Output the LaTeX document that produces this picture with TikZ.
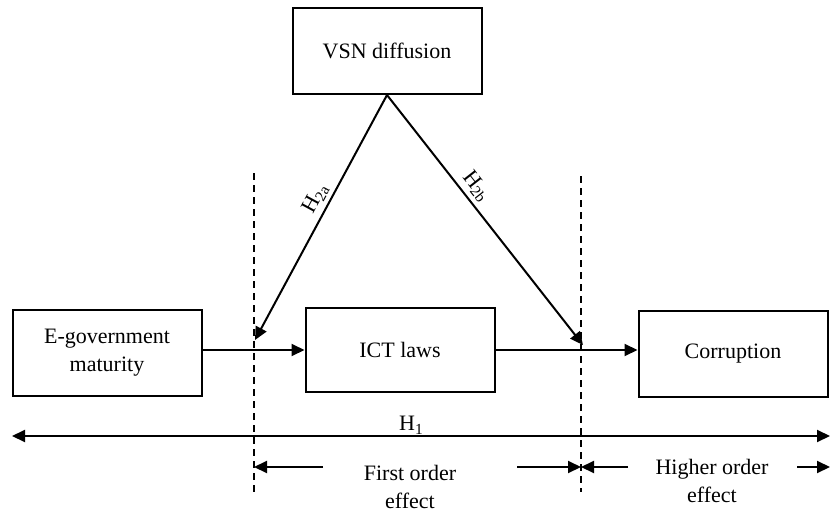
\documentclass[tikz,border=0pt]{standalone}
\usepackage{fontspec}
\setmainfont{Liberation Serif}
\usetikzlibrary{arrows.meta}

\begin{document}
\begin{tikzpicture}[x=1pt, y=-1pt, font=\fontsize{22}{28}\selectfont,
    box/.style = {draw, line width=2pt, minimum width=189pt, minimum height=86pt, align=center},
    arr/.style = {-{Triangle[length=13pt,width=12pt]}, line width=2pt},
    dblarr/.style = {{Triangle[length=13pt,width=12pt]}-{Triangle[length=13pt,width=12pt]}, line width=2pt},
    divider/.style = {line width=1.6pt, dash pattern=on 7pt off 5pt}]
    \useasboundingbox (0,0) rectangle (831,514);

    % boxes
    \node[box] (vsn) at (387,51) {VSN diffusion};
    \node[box] (egov) at (107,353) {E-government\\maturity};
    \node[box, minimum height=84pt] (ict) at (400,350) {ICT laws};
    \node[box] (corr) at (733,354) {Corruption};

    % dividers
    \coordinate (d1top) at (254,173);
    \coordinate (d1bot) at (254,492);
    \coordinate (d2top) at (581,176);
    \coordinate (d2bot) at (581,492);
    \draw[divider] (d1top) -- (d1bot);
    \draw[divider] (d2top) -- (d2bot);

    % main path
    \draw[arr] (egov.east |- ict.west) -- (ict.west);
    \draw[arr] (ict.east) -- (ict.east -| corr.west);

    % moderation
    \coordinate (h2aend) at (255,340);
    \coordinate (h2bend) at (583,345);
    \draw[arr] (vsn.south) -- node[pos=0.45, sloped, above, inner sep=4pt] {H\textsubscript{2a}} (h2aend);
    \draw[arr] (vsn.south) -- node[pos=0.40, sloped, above, inner sep=4pt] {H\textsubscript{2b}} (h2bend);

    % total effect
    \coordinate (h1left) at (12,436);
    \coordinate (h1right) at (830,436);
    \draw[dblarr] (h1left) -- node[pos=0.488, above, inner sep=1pt] {H\textsubscript{1}} (h1right);

    % effect labels
    \node[align=center] (first) at (410,487) {First order\\effect};
    \node[align=center] (higher) at (712,481) {Higher order\\effect};
    \coordinate (f1) at (323,467);
    \coordinate (f2) at (517,467);
    \coordinate (g1) at (628,467);
    \coordinate (g2) at (797,467);
    \coordinate (g2end) at (830,467);
    \draw[arr] (f1) -- (f1 -| d1top);
    \draw[arr] (f2) -- (f2 -| d2top);
    \draw[arr] (g1) -- (g1 -| d2top);
    \draw[arr] (g2) -- (g2end);
\end{tikzpicture}
\end{document}
